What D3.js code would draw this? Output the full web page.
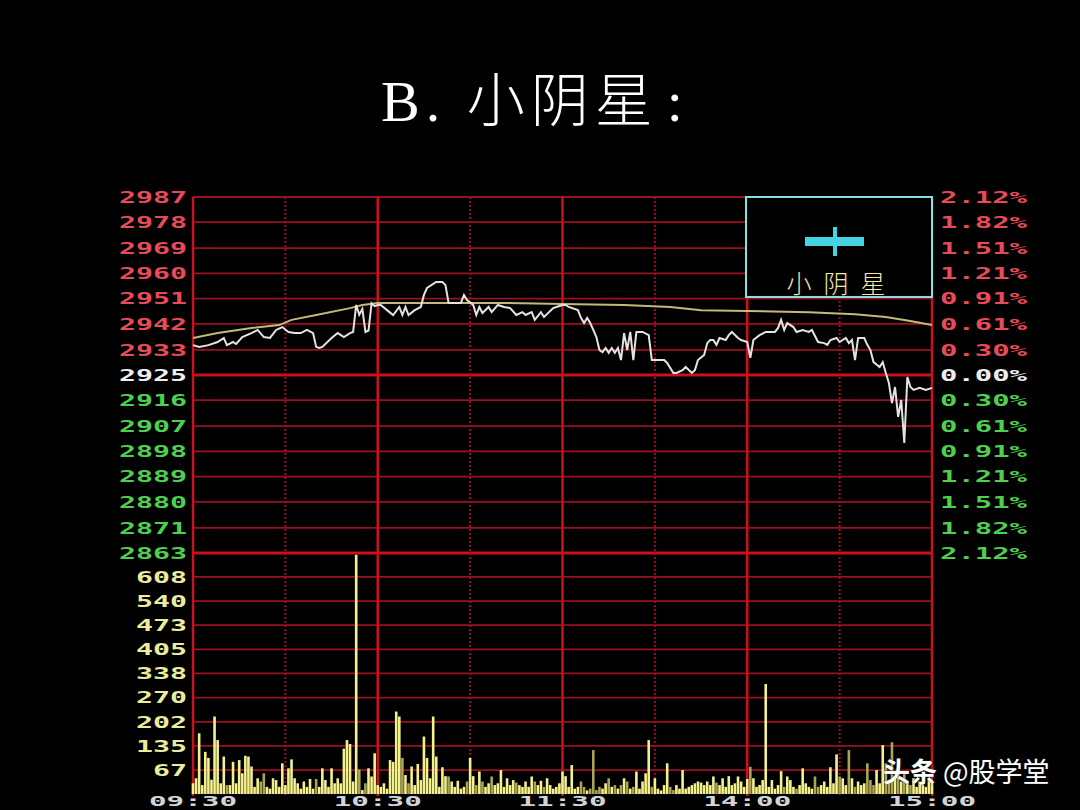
<!DOCTYPE html>
<html><head><meta charset="utf-8">
<script src="https://cdn.jsdelivr.net/npm/d3@7"></script>
<style>
html,body{margin:0;padding:0;background:#000;}
svg{display:block;}
</style></head>
<body>
<svg id="chart" width="1080" height="810"></svg>
<script>
// ---------- DATA ----------
const prevClose = 2925;
const pctTicks = [2.12,1.82,1.51,1.21,0.91,0.61,0.30,0,-0.30,-0.61,-0.91,-1.21,-1.51,-1.82,-2.12];
const priceLabels = ["2987","2978","2969","2960","2951","2942","2933","2925","2916","2907","2898","2889","2880","2871","2863"];
const pctLabels = ["2.12%","1.82%","1.51%","1.21%","0.91%","0.61%","0.30%","0.00%","0.30%","0.61%","0.91%","1.21%","1.51%","1.82%","2.12%"];
const volTicks = [67,135,202,270,338,405,473,540,608];
const volLabels = ["67","135","202","270","338","405","473","540","608"];
const timeTickMinutes = [0,60,120,180,240];
const timeLabels = ["09:30","10:30","11:30","14:00","15:00"];
const majorMinutes = [60,120,180];
const minorMinutes = [30,90,150,210];

const priceMinutes = [0,2,5,8,10,11,13,14,16,19,21,23,25,27,29,31,33,35,37,39,40,41,42,45,47,49,51,52,53,54,55,56,57,58,59,60,
 61,63,65,67,68,69,70,72,74,75,76,79,81,82,83,85,87,88,89,91,92,93,94,96,97,99,101,103,105,107,108,110,111,113,114,117,118,120,
 121,122,125,126,127,128,129,130,131,132,133,134,135,136,137,138,139,140,141,142,143,144,146,148,149,151,153,154,156,157,159,160,162,163,164,166,167,168,169,170,171,173,174,175,177,178,180,181,182,184,186,
 189,190,191,192,193,195,196,198,200,201,203,205,206,207,209,210,212,213,214,215,216,218,219,220,221,223,224,225,226,227,228,229,230,231,232,233,234,236,238,240];
const priceValues = [2935.4,2934.8,2935.4,2936.5,2937.9,2935.4,2936.5,2935.8,2938.2,2939.6,2940.7,2938.2,2937.9,2940.7,2941.7,2940.0,2939.6,2939.6,2940.7,2939.6,2934.8,2934.4,2934.8,2937.9,2939.6,2938.2,2939.6,2940.0,2949.4,2946.0,2948.0,2940.0,2940.5,2950.0,2949.0,2949.4,
 2949.4,2947.6,2945.9,2948.7,2945.9,2948.7,2945.9,2947.6,2948.7,2952.9,2955.3,2957.4,2957.4,2956.3,2950.1,2950.1,2950.1,2952.9,2951.1,2949.4,2945.9,2948.7,2946.6,2948.7,2946.9,2949.4,2948.7,2948.3,2945.9,2946.9,2945.9,2946.9,2944.2,2946.9,2945.2,2948.3,2948.7,2949.4,
 2949.4,2948.7,2947.6,2944.9,2943.1,2944.9,2943.1,2940.7,2938.2,2933.7,2933.0,2934.4,2932.7,2934.4,2932.7,2934.4,2930.2,2939.6,2933.7,2940.0,2930.2,2940.0,2940.0,2938.9,2930.2,2930.2,2930.2,2929.2,2925.7,2925.7,2926.7,2927.8,2925.7,2926.7,2930.2,2932.0,2936.1,2937.2,2937.2,2935.5,2937.9,2937.2,2938.9,2940.0,2937.9,2937.2,2936.5,2931.0,2937.2,2938.9,2940.0,
 2940.0,2941.4,2944.2,2940.7,2943.1,2941.7,2940.0,2940.7,2940.0,2940.7,2936.5,2936.1,2935.5,2937.2,2937.9,2936.5,2937.9,2936.1,2937.2,2930.2,2937.9,2937.9,2935.5,2933.7,2929.5,2927.8,2929.5,2925.7,2922.2,2915.2,2920.8,2910.4,2916.3,2901.3,2924.3,2920.8,2919.8,2920.5,2919.8,2920.5];

const avgMinutes = [0,8,19,28,32,40,51,55,60,80,100,120,140,155,165,180,200,215,225,232,240];
const avgValues = [2937.9,2939.6,2941.4,2942.4,2944.2,2945.9,2948.3,2949.4,2950.1,2950.1,2950.1,2949.7,2949.4,2948.7,2947.6,2947.3,2946.9,2946.2,2945.2,2944.0,2942.4];

const volumes = [30,44,170,25,118,101,40,217,151,30,105,25,25,90,30,95,58,107,105,77,
 20,44,35,58,20,15,44,39,20,86,25,72,97,44,30,15,35,20,42,15,
 42,20,72,39,20,72,30,44,30,127,151,140,35,670,69,11,30,72,49,114,
 25,20,30,15,95,90,231,217,101,53,30,77,25,84,39,161,101,44,217,105,
 20,75,50,49,35,20,37,15,20,35,101,50,25,63,35,20,30,49,25,30,
 67,20,44,25,39,32,25,20,35,20,49,35,25,37,20,44,25,15,20,30,
 63,50,20,81,15,20,35,20,10,15,123,11,20,15,30,44,20,25,15,25,
 44,35,15,20,63,15,35,58,151,20,44,15,10,25,86,20,11,25,15,67,
 15,20,25,30,35,32,25,35,25,49,32,25,44,20,50,25,30,49,35,20,
 42,76,44,20,25,39,308,20,39,15,25,64,20,49,39,20,15,25,72,30,
 20,15,49,20,25,35,20,75,30,111,49,44,25,123,44,20,35,25,30,86,
 39,25,67,30,137,86,40,145,50,77,35,58,35,25,44,20,35,25,20,39,30];

// ---------- LAYOUT ----------
const L = 193, R = 932, T = 197, PB = 553, VB = 794;
const svg = d3.select("#chart");
svg.append("rect").attr("width",1080).attr("height",810).attr("fill","#000");

const x = d3.scaleLinear().domain([0,240]).range([L,R]);
const yPct = d3.scaleLinear().domain([-2.12,2.12]).range([PB,T]);
const yP = p => yPct((p/prevClose-1)*100);
const yV = d3.scaleLinear().domain([0,675]).range([VB,PB]);

const gridCol = "#9a1020", majorCol = "#c8121e";

// title
const title = svg.append("text").attr("x",535).attr("y",121).attr("text-anchor","middle")
  .attr("fill","#fff").attr("font-size",58).attr("letter-spacing",6)
  .attr("font-family","'Liberation Serif','Noto Sans CJK SC',serif");
title.append("tspan").text("B. ");
title.append("tspan").attr("font-family","'Noto Sans CJK SC'").attr("font-weight",300).text("小阴星");
title.append("tspan").attr("dx",8).text(":");

// horizontal price grid
svg.append("g").selectAll("line").data(pctTicks).join("line")
  .attr("x1",L).attr("x2",R).attr("y1",d=>yPct(d)).attr("y2",d=>yPct(d))
  .attr("stroke",d=> (d===0||d===-2.12)? majorCol : gridCol)
  .attr("stroke-width",d=> (d===0||d===-2.12)? 3 : 1.8);

// volume grid
svg.append("g").selectAll("line").data(volTicks).join("line")
  .attr("x1",L).attr("x2",R).attr("y1",d=>yV(d)).attr("y2",d=>yV(d))
  .attr("stroke",gridCol).attr("stroke-width",1.8);

// vertical lines
svg.append("g").selectAll("line").data(minorMinutes).join("line")
  .attr("x1",d=>x(d)).attr("x2",d=>x(d)).attr("y1",T).attr("y2",VB+2)
  .attr("stroke",gridCol).attr("stroke-width",2).attr("stroke-dasharray","2,2");
svg.append("g").selectAll("line").data([0,...majorMinutes,240]).join("line")
  .attr("x1",d=>x(d)).attr("x2",d=>x(d)).attr("y1",T).attr("y2",VB+2)
  .attr("stroke",majorCol).attr("stroke-width",2.5);

// volume bars coloured by price direction
const priceAt = m => {
  const i = d3.bisectLeft(priceMinutes, m);
  if (i<=0) return priceValues[0];
  if (i>=priceMinutes.length) return priceValues[priceValues.length-1];
  const m0=priceMinutes[i-1], m1=priceMinutes[i];
  return priceValues[i-1] + (priceValues[i]-priceValues[i-1])*(m-m0)/(m1-m0);
};
svg.append("g").selectAll("rect").data(volumes).join("rect")
  .attr("x",(d,i)=>x(i)-1.3).attr("width",2.6)
  .attr("y",d=>yV(d)).attr("height",d=>VB-yV(d))
  .attr("fill",(d,i)=> (i===0 || priceAt(i)-priceAt(i-1) > -1.2) ? "#f4f08c" : "#aaa454");

// average line
const avgData = avgMinutes.map((m,i)=>({m, p:avgValues[i]}));
svg.append("path").datum(avgData)
  .attr("d", d3.line().x(d=>x(d.m)).y(d=>yP(d.p)))
  .attr("fill","none").attr("stroke","#c2ba78").attr("stroke-width",2);

// price line
const priceData = priceMinutes.map((m,i)=>({m, p:priceValues[i]}));
svg.append("path").datum(priceData)
  .attr("d", d3.line().x(d=>x(d.m)).y(d=>yP(d.p)))
  .attr("fill","none").attr("stroke","#e6e2e2").attr("stroke-width",2).attr("stroke-linejoin","miter");

// labels
const mono = "'DejaVu Sans Mono',monospace";
const colFor = p => p>0 ? "#e84a58" : (p<0 ? "#4fcf4f" : "#eeeeee");
svg.append("g").selectAll("text").data(pctTicks).join("text")
  .attr("x",187).attr("y",d=>yPct(d)).attr("dy","0.36em").attr("text-anchor","end")
  .attr("font-family",mono).attr("font-weight","bold").attr("font-size",16)
  .attr("textLength",68).attr("lengthAdjust","spacingAndGlyphs")
  .attr("fill",d=>colFor(d)).text((d,i)=>priceLabels[i]);
svg.append("g").selectAll("text").data(pctTicks).join("text")
  .attr("x",940).attr("y",d=>yPct(d)).attr("dy","0.36em")
  .attr("font-family",mono).attr("font-weight","bold").attr("font-size",16)
  .attr("textLength",87).attr("lengthAdjust","spacingAndGlyphs")
  .attr("fill",d=>colFor(d)).text((d,i)=>pctLabels[i]);
svg.append("g").selectAll("text").data(volTicks).join("text")
  .attr("x",187).attr("y",d=>yV(d)).attr("dy","0.36em").attr("text-anchor","end")
  .attr("font-family",mono).attr("font-weight","bold").attr("font-size",16)
  .attr("textLength",(d,i)=>volLabels[i].length*17).attr("lengthAdjust","spacingAndGlyphs")
  .attr("fill","#ecec9c").text((d,i)=>volLabels[i]);
svg.append("g").selectAll("text").data(timeTickMinutes).join("text")
  .attr("x",d=>x(d)).attr("y",801).attr("dy","0.36em").attr("text-anchor","middle")
  .attr("font-family",mono).attr("font-weight","bold").attr("font-size",14)
  .attr("textLength",88).attr("lengthAdjust","spacingAndGlyphs")
  .attr("fill","#d4d4d4").text((d,i)=>timeLabels[i]);

// inset legend box
const box = svg.append("g");
box.append("rect").attr("x",746).attr("y",197).attr("width",186).attr("height",100)
  .attr("fill","#000").attr("stroke","#86e2e2").attr("stroke-width",2);
box.append("rect").attr("x",805).attr("y",237).attr("width",59).attr("height",9).attr("fill","#44d4e4");
box.append("rect").attr("x",833).attr("y",227).attr("width",4).attr("height",29).attr("fill","#44d4e4");
box.append("text").attr("x",842).attr("y",293).attr("text-anchor","middle")
  .attr("font-family","'Noto Sans CJK SC'").attr("font-weight",300).attr("font-size",25)
  .attr("letter-spacing",12).attr("fill","#f2eaa6").text("小阴星");

// watermark
const wm = svg.append("text").attr("x",883).attr("y",782).attr("font-family","'Noto Sans CJK SC'")
  .attr("font-size",27).attr("fill","#fff").attr("stroke","#222").attr("stroke-width",0.5).attr("paint-order","stroke");
wm.append("tspan").attr("font-weight",700).text("头条");
wm.append("tspan").attr("dx",6).attr("font-weight",400).text("@股学堂");
</script>
</body></html>
